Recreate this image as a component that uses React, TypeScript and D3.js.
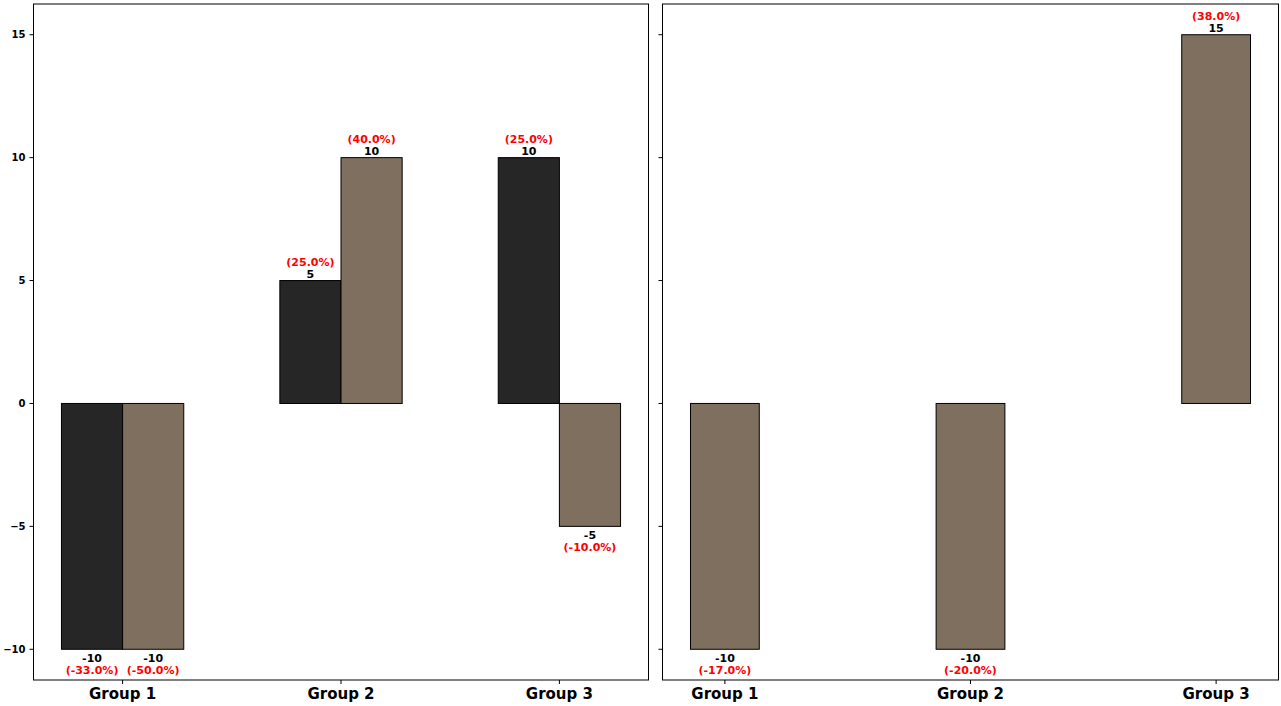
import React from 'react';
import * as d3 from 'd3';

const groups = ['Group 1', 'Group 2', 'Group 3'];
const leftDark = [-10, 5, 10];
const leftDarkPct = [-33.0, 25.0, 25.0];
const leftBrown = [-10, 10, -5];
const leftBrownPct = [-50.0, 40.0, -10.0];
const rightBrown = [-10, -10, 15];
const rightBrownPct = [-17.0, -20.0, 38.0];
const yTicks = [-10, -5, 0, 5, 10, 15];

const W = 1281;
const H = 706;
const top = 4;
const bottom = 680;
const DARK = '#262626';
const BROWN = '#7f6f5f';
const FONT = 'DejaVu Sans, sans-serif';
const BAR_W = 0.28;

type Bar = { x: number; v: number; pct: number; color: string };

const fmtTick = (d: number) => (d < 0 ? '\u2212' + Math.abs(d) : String(d));

const Panel = ({ x0, x1, domain, bars, showLabels }: { x0: number; x1: number; domain: [number, number]; bars: Bar[]; showLabels: boolean }) => {
  const x = d3.scaleLinear().domain(domain).range([x0, x1]);
  const y = d3.scaleLinear().domain([-11.25, 16.25]).range([bottom, top]);
  const bw = x(BAR_W) - x(0);
  return (
    <g>
      {bars.map((b, i) => {
        const y0 = y(0);
        const yv = y(b.v);
        const left = x(b.x) - bw / 2;
        const pos = b.v >= 0;
        return (
          <g key={i}>
            <rect x={left} y={Math.min(y0, yv)} width={bw} height={Math.abs(yv - y0)} fill={b.color} stroke="#000" strokeWidth={1} />
            <text x={x(b.x)} y={pos ? yv - 3 : yv + 13} textAnchor="middle" fontFamily={FONT} fontWeight="bold" fontSize={11} fill="#000">{String(b.v)}</text>
            <text x={x(b.x)} y={pos ? yv - 15 : yv + 25} textAnchor="middle" fontFamily={FONT} fontWeight="bold" fontSize={11} fill="red">{`(${b.pct.toFixed(1)}%)`}</text>
          </g>
        );
      })}
      <rect x={x0} y={top} width={x1 - x0} height={bottom - top} fill="none" stroke="#000" strokeWidth={1} />
      {yTicks.map((t) => (
        <g key={t}>
          <line x1={x0 - 4} x2={x0} y1={y(t)} y2={y(t)} stroke="#000" />
          {showLabels && (
            <text x={x0 - 8} y={y(t)} dy="0.35em" textAnchor="end" fontFamily={FONT} fontWeight="bold" fontSize={10} fill="#000">{fmtTick(t)}</text>
          )}
        </g>
      ))}
      {groups.map((g, i) => (
        <g key={g}>
          <line x1={x(i)} x2={x(i)} y1={bottom} y2={bottom + 4} stroke="#000" />
          <text x={x(i)} y={bottom + 19} textAnchor="middle" fontFamily={FONT} fontWeight="bold" fontSize={15} fill="#000">{g}</text>
        </g>
      ))}
    </g>
  );
};

export default function App() {
  const leftBars: Bar[] = [];
  groups.forEach((_, i) => {
    leftBars.push({ x: i - BAR_W / 2, v: leftDark[i], pct: leftDarkPct[i], color: DARK });
    leftBars.push({ x: i + BAR_W / 2, v: leftBrown[i], pct: leftBrownPct[i], color: BROWN });
  });
  const rightBars: Bar[] = groups.map((_, i) => ({ x: i, v: rightBrown[i], pct: rightBrownPct[i], color: BROWN }));
  return (
    <svg width={W} height={H} style={{ position: 'absolute', left: 0, top: 0, background: '#fff' }}>
      <Panel x0={33.5} x1={648.5} domain={[-0.408, 2.408]} bars={leftBars} showLabels={true} />
      <Panel x0={662.5} x1={1278.5} domain={[-0.254, 2.254]} bars={rightBars} showLabels={false} />
    </svg>
  );
}
